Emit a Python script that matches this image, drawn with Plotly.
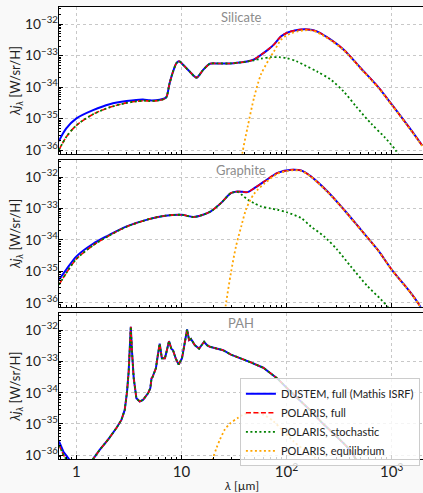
import plotly.graph_objects as go

# ---------------- data ----------------
# Silicate
sil_wl = [0.68, 0.80, 1.0, 1.44, 2.07, 3.0, 4.3, 5.0, 6.2, 6.9, 7.2, 7.7, 8.3, 8.95, 9.5, 10.4, 12.0,
          13.9, 16.0, 18.6, 22, 29, 36, 42, 49, 57, 68, 76, 88, 100, 110, 130, 147, 170, 196, 265,
          352, 508, 735, 1000, 1520, 1950]
sil_dustem = [1.95e-36, 4.90e-36, 1.02e-35, 1.86e-35, 2.88e-35, 3.63e-35, 4.07e-35, 3.80e-35, 3.98e-35,
              4.37e-35, 4.90e-35, 1.32e-34, 3.09e-34, 5.75e-34, 6.61e-34, 5.01e-34, 3.09e-34, 2.00e-34,
              3.47e-34, 5.50e-34, 5.62e-34, 5.62e-34, 6.03e-34, 6.46e-34, 7.5e-34, 1.05e-33, 1.63e-33,
              2.27e-33, 4.0e-33, 5.2e-33, 5.85e-33, 6.6e-33, 6.8e-33, 6.6e-33, 5.75e-33, 3.16e-33,
              1.51e-33, 3.98e-34, 1.05e-34, 2.82e-35, 4.47e-36, 1.41e-36]
sil_full = [1.0e-36, 2.63e-36, 6.17e-36, 1.38e-35, 2.29e-35, 3.16e-35, 3.72e-35, 3.63e-35, 3.80e-35,
            4.27e-35, 4.90e-35, 1.32e-34, 3.09e-34, 5.75e-34, 6.61e-34, 5.01e-34, 3.09e-34, 2.00e-34,
            3.47e-34, 5.50e-34, 5.62e-34, 5.62e-34, 6.03e-34, 6.46e-34, 7.5e-34, 1.05e-33, 1.63e-33,
            2.27e-33, 4.0e-33, 5.2e-33, 5.85e-33, 6.6e-33, 6.8e-33, 6.6e-33, 5.75e-33, 3.16e-33,
            1.51e-33, 3.98e-34, 1.05e-34, 2.82e-35, 4.47e-36, 1.41e-36]
sil_sto_wl = [0.68, 0.80, 1.0, 1.44, 2.07, 3.0, 4.3, 5.0, 6.2, 6.9, 7.2, 7.7, 8.3, 8.95, 9.5, 10.4, 12.0,
              13.9, 16.0, 18.6, 22, 29, 36, 42, 49, 57, 71, 85, 100, 124, 147, 196, 265, 352, 460,
              634, 852, 1090, 1200]
sil_sto = [1.0e-36, 2.63e-36, 6.17e-36, 1.38e-35, 2.29e-35, 3.16e-35, 3.72e-35, 3.63e-35, 3.80e-35,
           4.27e-35, 4.90e-35, 1.32e-34, 3.09e-34, 5.75e-34, 6.61e-34, 5.01e-34, 3.09e-34, 2.00e-34,
           3.47e-34, 5.50e-34, 5.62e-34, 5.62e-34, 6.03e-34, 6.46e-34, 7.08e-34, 7.94e-34, 8.91e-34,
           8.91e-34, 8.32e-34, 6.61e-34, 5.01e-34, 3.09e-34, 1.70e-34, 7.08e-35, 2.40e-35, 7.08e-36,
           2.63e-36, 1.0e-36, 5.62e-37]
sil_eq_wl = [37, 38.1, 42.6, 49.2, 57, 68, 76, 88, 100, 110, 130, 147, 170, 196, 265, 352, 508, 735,
             1000, 1520, 1950]
sil_eq = [3.98e-37, 8.71e-37, 5.5e-36, 4.9e-35, 2.51e-34, 7.59e-34, 1.38e-33, 3.1e-33, 4.37e-33,
          5.1e-33, 5.95e-33, 6.3e-33, 6.3e-33, 5.44e-33, 2.99e-33, 1.44e-33, 3.8e-34, 1.0e-34, 2.7e-35,
          4.3e-36, 1.37e-36]

# Graphite
gra_wl = [0.683, 0.8, 1.0, 1.44, 2.0, 3.0, 5.0, 7.0, 10, 13, 16, 19, 23.7, 29.5, 34, 38, 42.6, 49, 61.5,
          82, 112, 137, 170, 245, 352, 508, 735, 1000, 1520, 1820, 2000]
gra_dustem = [5.50e-36, 1.15e-35, 3.02e-35, 7.59e-35, 1.38e-34, 2.69e-34, 4.68e-34, 5.89e-34, 6.31e-34,
              5.37e-34, 6.31e-34, 8.13e-34, 1.48e-33, 3.09e-33, 3.47e-33, 3.39e-33, 3.31e-33, 4.37e-33,
              7.24e-33, 1.35e-32, 1.70e-32, 1.62e-32, 1.05e-32, 3.47e-33, 9.12e-34, 2.14e-34, 4.90e-35,
              1.15e-35, 2.09e-36, 8.91e-37, 5.0e-37]
gra_full = [3.80e-36, 8.91e-36, 2.51e-35, 6.76e-35, 1.32e-34, 2.63e-34, 4.68e-34, 5.89e-34, 6.31e-34,
            5.37e-34, 6.31e-34, 8.13e-34, 1.48e-33, 3.09e-33, 3.47e-33, 3.39e-33, 3.31e-33, 4.37e-33,
            7.24e-33, 1.35e-32, 1.70e-32, 1.62e-32, 1.05e-32, 3.47e-33, 9.12e-34, 2.14e-34, 4.90e-35,
            1.15e-35, 2.09e-36, 8.91e-37, 5.0e-37]
gra_sto_wl = [0.683, 0.8, 1.0, 1.44, 2.0, 3.0, 5.0, 7.0, 10, 13, 16, 19, 23.7, 29.5, 34, 38, 42.6, 49, 57,
              70, 82, 100, 137, 170, 228, 303, 408, 590, 797, 910, 1000]
gra_sto = [3.80e-36, 8.91e-36, 2.51e-35, 6.76e-35, 1.32e-34, 2.63e-34, 4.68e-34, 5.89e-34, 6.31e-34,
           5.37e-34, 6.31e-34, 8.13e-34, 1.48e-33, 3.05e-33, 3.35e-33, 2.63e-33, 1.91e-33, 1.48e-33,
           1.17e-33, 1.0e-33, 9.12e-34, 7.59e-34, 5.01e-34, 2.69e-34, 1.29e-34, 4.90e-35, 1.45e-35,
           3.39e-36, 1.26e-36, 7.76e-37, 5.0e-37]
gra_eq_wl = [25.5, 26.4, 29.5, 33, 37, 41, 45.6, 49, 52.9, 61.5, 82, 112, 137, 170, 245, 352, 508, 735,
             1000, 1520, 1820, 2000]
gra_eq = [3.98e-37, 8.91e-37, 8.91e-36, 6.31e-35, 2.69e-34, 9.12e-34, 2.0e-33, 2.9e-33, 3.9e-33,
          6.2e-33, 1.26e-32, 1.62e-32, 1.57e-32, 1.02e-32, 3.34e-33, 8.9e-34, 2.1e-34, 4.8e-35,
          1.12e-35, 2.04e-36, 8.71e-37, 4.9e-37]

# PAH
pah_wl = [0.683, 0.75, 0.86, 0.9, 1.1, 1.40, 1.44, 1.67, 2.0, 2.4, 2.68, 2.88, 3.03, 3.14, 3.24, 3.29,
          3.38, 3.51, 3.72, 4.0, 4.3, 4.8, 5.05, 5.18, 5.30, 5.45, 5.7, 5.95, 6.2, 6.5, 6.95, 7.2, 7.6,
          8.0, 8.3, 8.8, 9.4, 10.1, 10.7, 11.3, 11.8, 12.3, 13.4, 14.7, 16.4, 17.5, 18.6, 24.9, 29.5,
          35.4, 45, 60, 75, 82, 100, 130, 170, 220, 286, 350, 408, 447, 470]
pah_dustem = [2.75e-36, 1.32e-36, 7.08e-37, 5.01e-37, 1.0e-37, 5.62e-37, 7.59e-37, 1.51e-36, 3.16e-36,
              7.41e-36, 1.35e-35, 2.82e-35, 1.07e-34, 4.68e-34, 3.31e-33, 1.29e-32, 2.04e-33, 2.88e-34,
              6.61e-35, 5.25e-35, 5.89e-35, 9.55e-35, 1.41e-34, 2.88e-34, 3.16e-34, 4.17e-34, 6.03e-34,
              1.58e-33, 3.72e-33, 1.26e-33, 1.26e-33, 2.04e-33, 4.47e-33, 2.57e-33, 2.29e-33, 1.26e-33,
              7.94e-34, 1.26e-33, 3.31e-33, 1.05e-32, 4.79e-33, 5.25e-33, 3.31e-33, 2.57e-33, 4.27e-33,
              3.31e-33, 2.95e-33, 2.29e-33, 1.66e-33, 1.32e-33, 9.55e-34, 6.31e-34, 3.55e-34, 2.82e-34,
              1.45e-34, 6.31e-35, 2.63e-35, 1.05e-35, 4.68e-36, 2.40e-36, 1.38e-36, 8.32e-37, 6.31e-37]
pah_full = [2.09e-36, 1.05e-36, 5.0e-37, 3.5e-37, 1.0e-37, 5.62e-37, 7.59e-37, 1.51e-36, 3.16e-36,
            7.41e-36, 1.35e-35, 2.82e-35, 1.07e-34, 4.68e-34, 3.31e-33, 1.29e-32, 2.04e-33, 2.88e-34,
            6.61e-35, 5.25e-35, 5.89e-35, 9.55e-35, 1.41e-34, 2.88e-34, 3.16e-34, 4.17e-34, 6.03e-34,
            1.58e-33, 3.72e-33, 1.26e-33, 1.26e-33, 2.04e-33, 4.47e-33, 2.57e-33, 2.29e-33, 1.26e-33,
            7.94e-34, 1.26e-33, 3.31e-33, 1.05e-32, 4.79e-33, 5.25e-33, 3.31e-33, 2.57e-33, 4.27e-33,
            3.31e-33, 2.95e-33, 2.29e-33, 1.66e-33, 1.32e-33, 9.55e-34, 6.31e-34, 3.55e-34, 2.82e-34,
            1.45e-34, 6.31e-35, 2.63e-35, 1.05e-35, 4.68e-36, 2.40e-36, 1.38e-36, 8.32e-37, 6.31e-37]
pah_sto = pah_full
pah_eq_wl = [19.5, 20, 21.5, 23.2, 25.8, 28.8, 34.5, 38.7, 48, 59.6, 74.7, 93, 116, 144, 186, 195]
pah_eq = [5.01e-37, 8.13e-37, 1.70e-36, 3.16e-36, 6.61e-36, 1.02e-35, 1.58e-35, 2.00e-35, 2.40e-35,
          2.00e-35, 1.23e-35, 5.89e-36, 2.82e-36, 1.55e-36, 8.32e-37, 6.31e-37]

panel_names = ["Silicate", "Graphite", "PAH"]
series_names = ["DUSTEM, full (Mathis ISRF)", "POLARIS, full", "POLARIS, stochastic", "POLARIS, equilibrium"]

# ---------------- figure ----------------
FONT = "Lato"
BLUE, RED, GREEN, ORANGE = "#0000ff", "#ff0000", "#008000", "#ffa500"

panels = [
    (sil_wl, sil_dustem, sil_full, sil_sto_wl, sil_sto, sil_eq_wl, sil_eq, "spline"),
    (gra_wl, gra_dustem, gra_full, gra_sto_wl, gra_sto, gra_eq_wl, gra_eq, "spline"),
    (pah_wl, pah_dustem, pah_full, pah_wl, pah_sto, pah_eq_wl, pah_eq, "linear"),
]

fig = go.Figure()
for i, (wl, dus, full, swl, sto, ewl, eq, shape) in enumerate(panels):
    xa = "x" if i == 0 else f"x{i+1}"
    ya = "y" if i == 0 else f"y{i+1}"
    show = (i == 2)
    sm = dict(smoothing=0.8) if shape == "spline" else {}
    fig.add_trace(go.Scatter(x=wl, y=dus, mode="lines", name=series_names[0], legendgroup="a",
                             showlegend=show, xaxis=xa, yaxis=ya,
                             line=dict(color=BLUE, width=2, shape=shape, **sm)))
    fig.add_trace(go.Scatter(x=wl, y=full, mode="lines", name=series_names[1], legendgroup="b",
                             showlegend=show, xaxis=xa, yaxis=ya,
                             line=dict(color=RED, width=1.6, dash="5px,2.5px", shape=shape, **sm)))
    fig.add_trace(go.Scatter(x=swl, y=sto, mode="lines", name=series_names[2], legendgroup="c",
                             showlegend=show, xaxis=xa, yaxis=ya,
                             line=dict(color=GREEN, width=1.8, dash="2px,2.5px", shape=shape, **sm)))
    fig.add_trace(go.Scatter(x=ewl, y=eq, mode="lines", name=series_names[3], legendgroup="d",
                             showlegend=show, xaxis=xa, yaxis=ya,
                             line=dict(color=ORANGE, width=1.8, dash="2px,2.5px", shape="spline",
                                       smoothing=0.8)))

ydomains = [[0.6748, 1.0], [0.3369, 0.6615], [0.0, 0.3223]]

common_x = dict(type="log", range=[-0.166, 3.298], showline=True, linecolor="black", linewidth=1,
                mirror=True, ticks="inside", ticklen=4, tickcolor="black", dtick=1, automargin=False,
                showgrid=True, gridcolor="#c8c8c8", griddash="dot", gridwidth=1,
                minor=dict(ticks="inside", ticklen=2, tickcolor="black", showgrid=False),
                exponentformat="power", showexponent="all", zeroline=False,
                tickfont=dict(family=FONT, size=12, color="#222"))
common_y = dict(type="log", range=[-36.12, -31.46], showline=True, linecolor="black", linewidth=1,
                ticks="inside", ticklen=4, tickcolor="black", dtick=1, automargin=False,
                showgrid=True, gridcolor="#c8c8c8", griddash="dot", gridwidth=1,
                minor=dict(ticks="inside", ticklen=2, tickcolor="black", showgrid=False),
                exponentformat="power", showexponent="all", zeroline=False, ticklabelstandoff=-2,
                tickfont=dict(family=FONT, size=11, color="#222"),
                title=dict(text="<i>λj</i><sub><i>λ</i></sub> [W/sr/H]", standoff=0,
                           font=dict(family=FONT, size=13, color="#222")))

layout = dict(width=423, height=493, margin=dict(l=59, r=0, t=7, b=34, autoexpand=False),
              paper_bgcolor="#f9f9f9", plot_bgcolor="white", showlegend=True,
              font=dict(family=FONT, size=12, color="#222"))
for i in range(3):
    xk = "xaxis" if i == 0 else f"xaxis{i+1}"
    yk = "yaxis" if i == 0 else f"yaxis{i+1}"
    ya = "y" if i == 0 else f"y{i+1}"
    xa = "x" if i == 0 else f"x{i+1}"
    xd = dict(common_x, domain=[0, 1], anchor=ya, showticklabels=(i == 2))
    if i > 0:
        xd["matches"] = "x"
    layout[xk] = xd
    layout[yk] = dict(common_y, domain=ydomains[i], anchor=xa)

fig.update_layout(**layout)
fig.update_layout(legend=dict(x=0.497, y=0.1785, xanchor="left", yanchor="top",
                              bgcolor="rgba(255,255,255,0.8)", bordercolor="#cccccc", borderwidth=1,
                              font=dict(family=FONT, size=11, color="#222"), itemwidth=30,
                              tracegroupgap=0))

for i, name in enumerate(panel_names):
    yr = "y domain" if i == 0 else f"y{i+1} domain"
    fig.add_annotation(text=name, xref="paper", yref=yr, x=0.5, y=1, xanchor="center", yanchor="top",
                       yshift=0, showarrow=False, font=dict(family=FONT, size=13, color="#8c8c8c"))

fig.add_annotation(text="<i>λ</i> [µm]", xref="paper", yref="paper", x=0.5, y=-0.058,
                   xanchor="center", yanchor="middle", showarrow=False,
                   font=dict(family=FONT, size=12, color="#222"))

fig.write_html("out.html", config={"displayModeBar": False},
               post_script="document.body.style.margin='0px';")
